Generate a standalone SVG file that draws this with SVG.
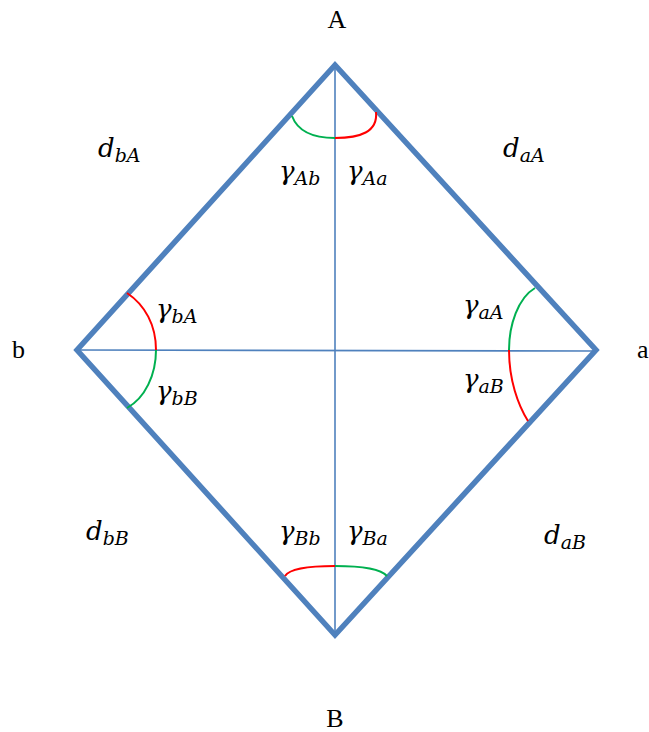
<svg xmlns="http://www.w3.org/2000/svg" width="649" height="732" viewBox="0 0 649 732">
<style>
.edge{fill:none;stroke:#4f81bd;stroke-width:5.5;stroke-linejoin:miter}
.axis{fill:none;stroke:#4f81bd;stroke-width:1.6}
.red{fill:none;stroke:#ff0000;stroke-width:2}
.green{fill:none;stroke:#00b050;stroke-width:2}
.v{font-family:"Liberation Serif",serif;font-size:26px;fill:#000}
.m{font-family:"DejaVu Serif","Liberation Serif",serif;font-style:italic;font-size:26px;fill:#000}
.s{font-size:19px}
</style>
<rect width="649" height="732" fill="#fff"/>
<g id="connectors">
<path class="edge" d="M335,65 L77,350 L335,635 L596,350 Z"/>
<line class="axis" x1="335" y1="65" x2="335" y2="635"/>
<line class="axis" x1="77" y1="350" x2="596" y2="351"/>
</g>
<g id="angles">
<path class="green" d="M292,116 C298,132 315,138 335,138"/>
<path class="red" d="M335,138 C360,138 378,132 376,112"/>
<path class="red" d="M127,293 C145,305 156,325 156,350"/>
<path class="green" d="M156,350 C156,375 145,398 127,408"/>
<path class="green" d="M535,288 C518,298 509,325 509,350"/>
<path class="red" d="M509,350 C509,380 518,405 528,421"/>
<path class="red" d="M285,576 C290,568 310,566 335,566"/>
<path class="green" d="M335,566 C360,566 380,568 387,576"/>
</g>
<g id="node-A"><text class="v" x="337" y="28" text-anchor="middle">A</text></g>
<g id="node-B"><text class="v" x="335" y="727" text-anchor="middle">B</text></g>
<g id="node-b"><text class="v" x="12" y="358">b</text></g>
<g id="node-a"><text class="v" x="637" y="358">a</text></g>
<g id="labels">
<text class="m" x="98" y="157">d<tspan class="s" dy="5">bA</tspan></text>
<text class="m" x="503" y="157">d<tspan class="s" dy="5">aA</tspan></text>
<text class="m" x="86" y="540">d<tspan class="s" dy="5">bB</tspan></text>
<text class="m" x="544" y="544">d<tspan class="s" dy="5">aB</tspan></text>
<text class="m" x="279" y="180">γ<tspan class="s" dy="5">Ab</tspan></text>
<text class="m" x="347" y="180">γ<tspan class="s" dy="5">Aa</tspan></text>
<text class="m" x="156" y="318">γ<tspan class="s" dy="5">bA</tspan></text>
<text class="m" x="156" y="400">γ<tspan class="s" dy="5">bB</tspan></text>
<text class="m" x="463" y="314">γ<tspan class="s" dy="5">aA</tspan></text>
<text class="m" x="463" y="388">γ<tspan class="s" dy="5">aB</tspan></text>
<text class="m" x="279" y="540">γ<tspan class="s" dy="5">Bb</tspan></text>
<text class="m" x="347" y="540">γ<tspan class="s" dy="5">Ba</tspan></text>
</g>
</svg>
